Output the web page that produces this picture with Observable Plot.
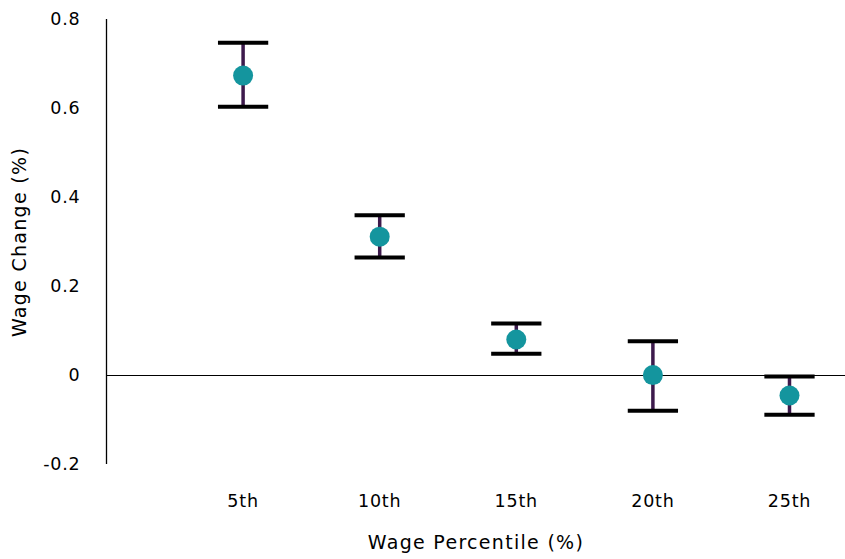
<!DOCTYPE html>
<html><head><meta charset="utf-8">
<script src="https://cdn.jsdelivr.net/npm/d3@7"></script>
<script src="https://cdn.jsdelivr.net/npm/@observablehq/plot@0.6"></script>
<style>
body{margin:0;background:#fff}
svg text{font-family:"DejaVu Sans",sans-serif}
g[aria-label="y-axis tick label"] text, g[aria-label="x-axis tick label"] text{font-size:17.5px;letter-spacing:0.8px}
g[aria-label="y-axis label"] text, g[aria-label="x-axis label"] text{font-size:19px;letter-spacing:1.3px}
</style>
</head><body><div id="chart"></div>
<script>
const percentiles = [5, 10, 15, 20, 25];
const tickLabels = ["5th", "10th", "15th", "20th", "25th"];
const estimate = [0.674, 0.312, 0.081, 0.001, -0.045];
const upper = [0.748, 0.360, 0.117, 0.077, -0.002];
const lower = [0.604, 0.265, 0.049, -0.079, -0.088];

const data = percentiles.map((p, i) => ({p, est: estimate[i], hi: upper[i], lo: lower[i]}));
const capHalf = 0.92;

const chart = Plot.plot({
  width: 845, height: 559,
  marginLeft: 106, marginRight: 0, marginTop: 19, marginBottom: 95,
  style: {fontFamily: "'DejaVu Sans', sans-serif", color: "#000"},
  x: {domain: [0, 27.05]},
  y: {domain: [-0.2, 0.8]},
  marks: [
    Plot.ruleX([0], {y1: -0.2, y2: 0.8, stroke: "#000", strokeWidth: 1.3}),
    Plot.ruleY([0], {stroke: "#000", strokeWidth: 1.2}),
    Plot.axisY({ticks: [-0.2, 0, 0.2, 0.4, 0.6, 0.8], tickSize: 0, tickPadding: 26, tickFormat: d => d === 0 ? "0" : d3.format(".1f")(d).replace("−", "-"),
      label: "Wage Change (%)", labelAnchor: "center", labelArrow: "none", labelOffset: 94}),
    Plot.axisX({ticks: percentiles, tickSize: 0, tickPadding: 30, tickFormat: d => tickLabels[percentiles.indexOf(d)],
      label: "Wage Percentile (%)", labelAnchor: "center", labelArrow: "none", labelOffset: 84}),
    Plot.ruleX(data, {x: "p", y1: "lo", y2: "hi", stroke: "#3d1a4c", strokeWidth: 3.5}),
    Plot.link(data, {x1: d => d.p - capHalf, x2: d => d.p + capHalf, y1: "hi", y2: "hi", stroke: "#000", strokeWidth: 4}),
    Plot.link(data, {x1: d => d.p - capHalf, x2: d => d.p + capHalf, y1: "lo", y2: "lo", stroke: "#000", strokeWidth: 4}),
    Plot.dot(data, {x: "p", y: "est", r: 10, fill: "#14959e", stroke: "none"})
  ]
});
document.getElementById("chart").appendChild(chart);
</script></body></html>
